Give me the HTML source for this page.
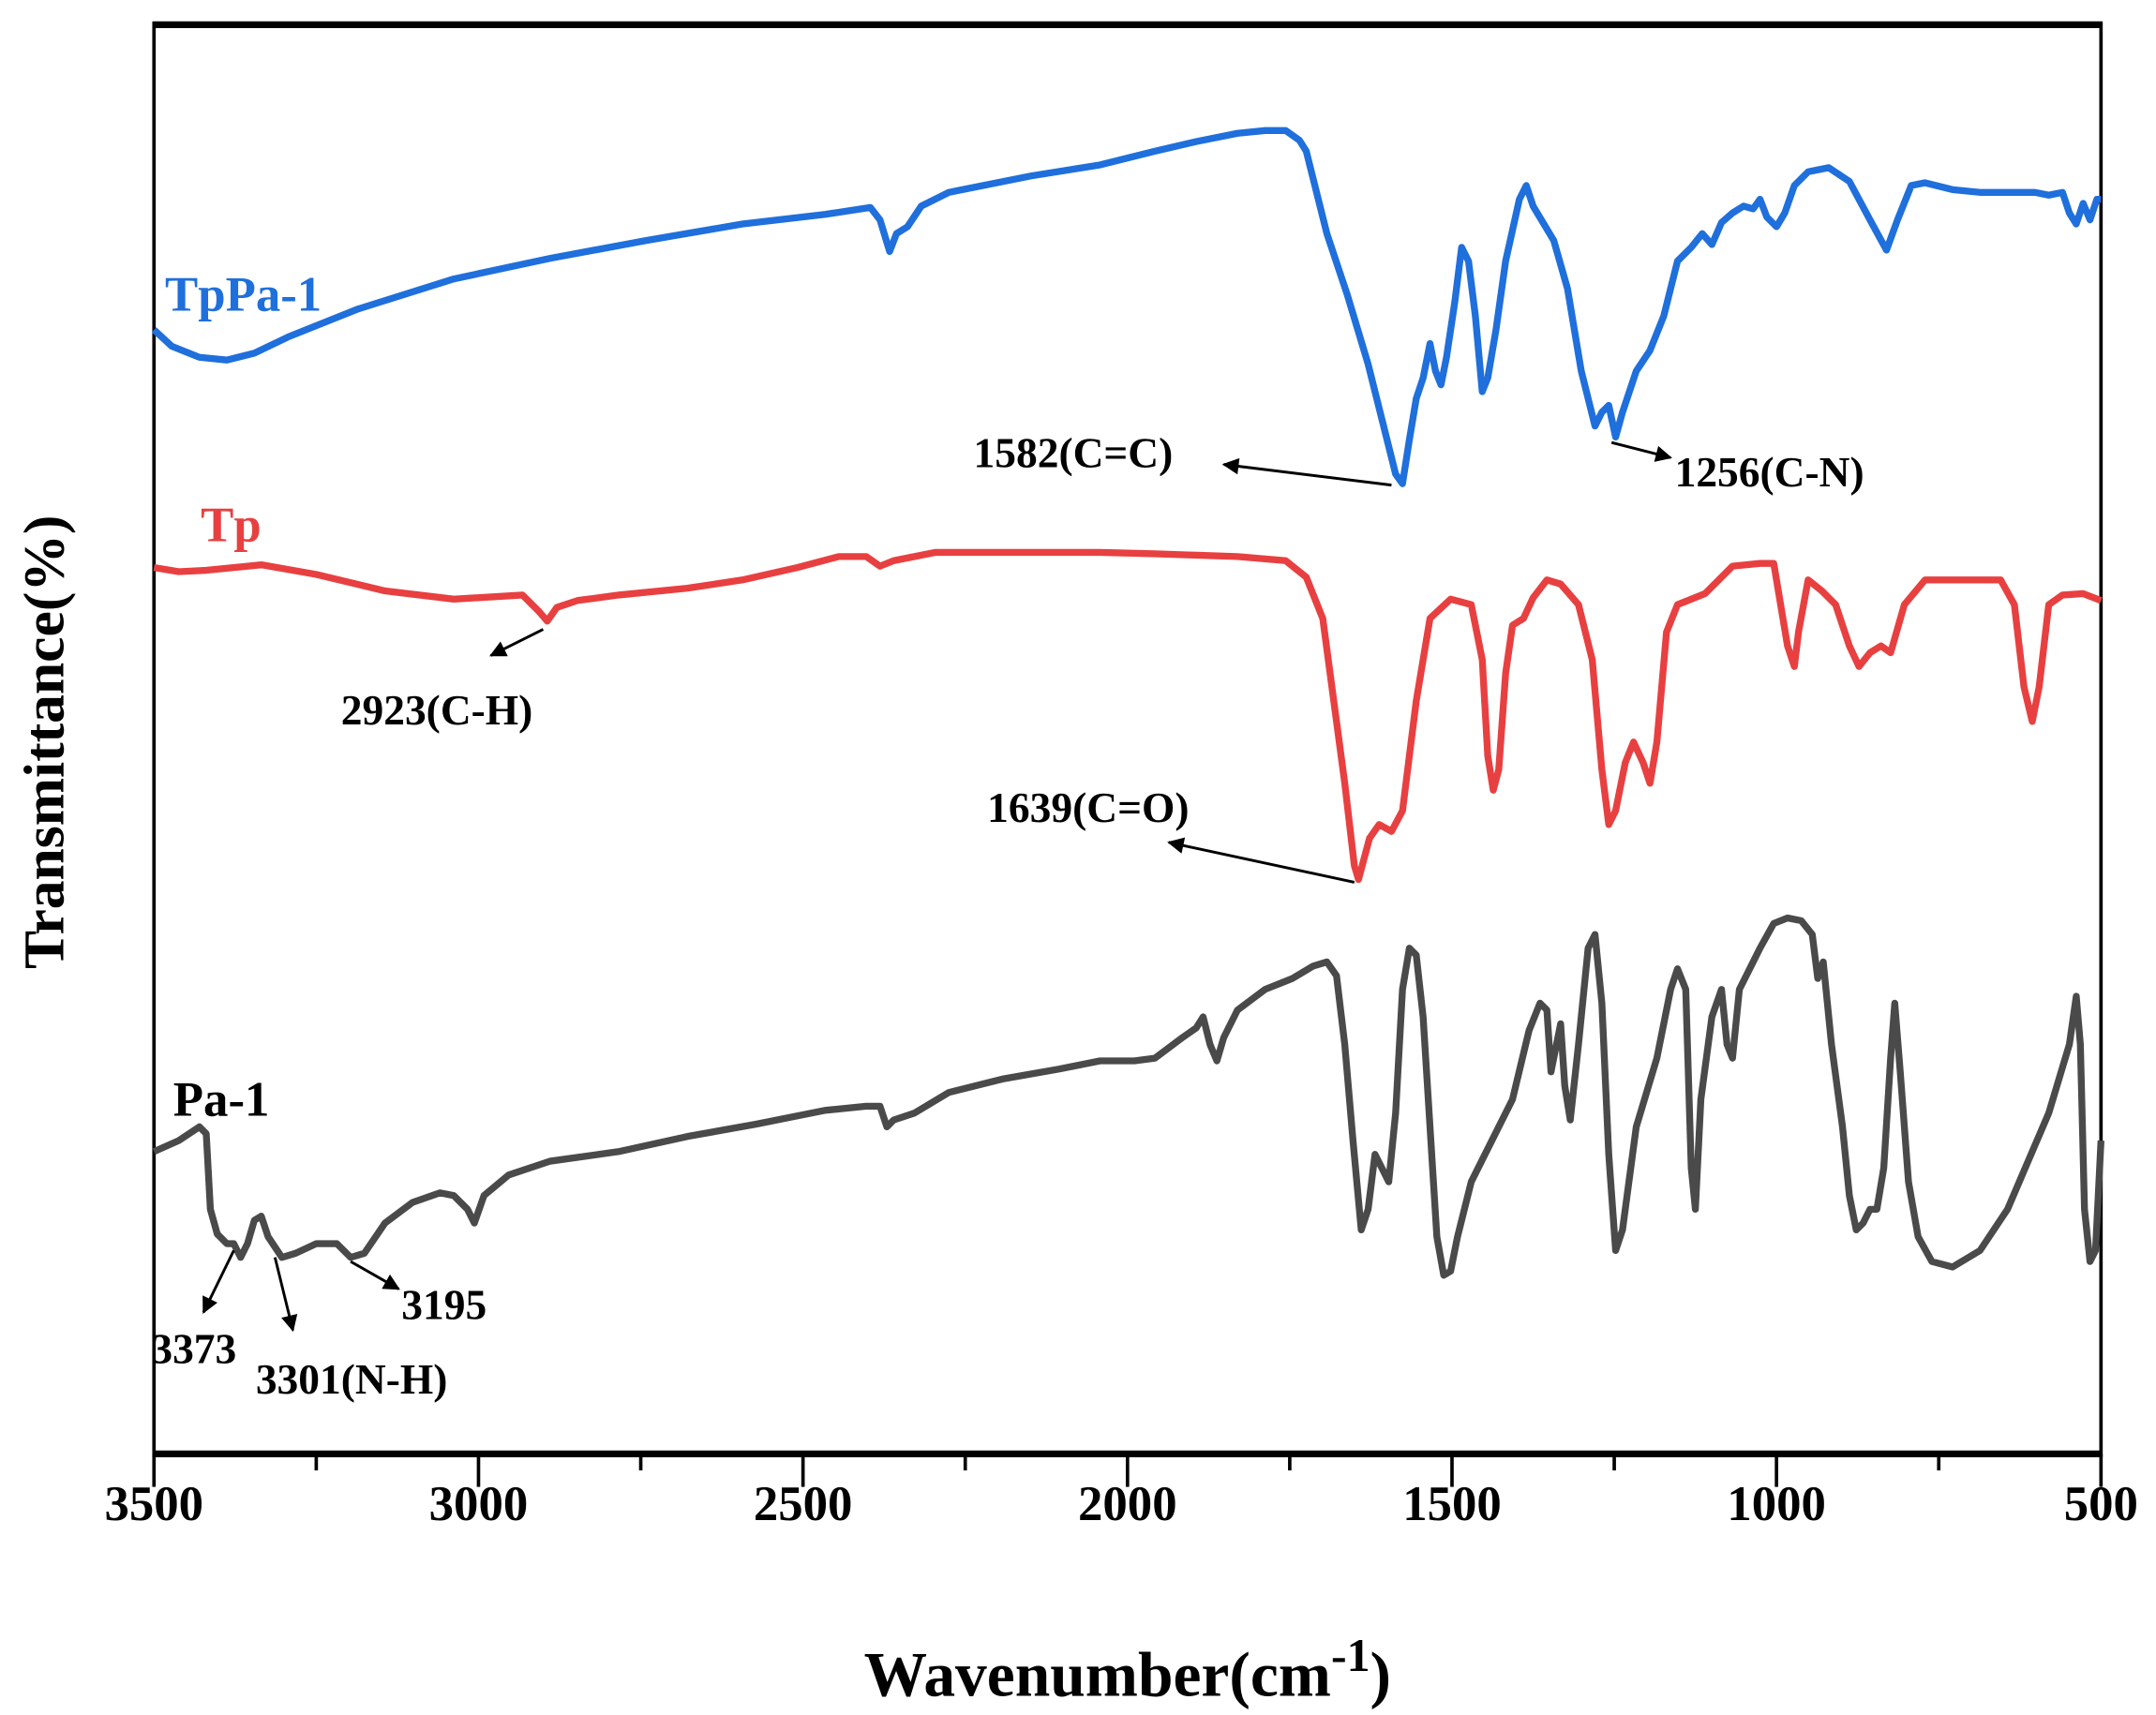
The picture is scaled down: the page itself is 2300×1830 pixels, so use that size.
<!DOCTYPE html>
<html><head><meta charset="utf-8"><style>html,body{margin:0;padding:0;background:#fff}svg{display:block}</style></head><body>
<svg width="2300" height="1830" viewBox="0 0 1568 1248" preserveAspectRatio="none" xmlns="http://www.w3.org/2000/svg" font-family="'Liberation Serif', serif" font-weight="bold">
<defs>
<marker id="a2" viewBox="0 0 10 10" refX="9" refY="5" markerWidth="16" markerHeight="12" orient="auto" markerUnits="userSpaceOnUse"><path d="M0,0 L10,5 L0,10 z" fill="#000"/></marker></defs>
<rect x="112" y="17" width="1416" height="1042" fill="none" stroke="#000" stroke-width="2.5"/>
<line x1="111" y1="18" x2="1529" y2="18" stroke="#000" stroke-width="5"/>
<line x1="111" y1="1058" x2="1529" y2="1058" stroke="#000" stroke-width="5"/>
<g stroke="#000" stroke-width="2.5">
<line x1="112" y1="1058" x2="112" y2="1082"/><line x1="348" y1="1058" x2="348" y2="1082"/><line x1="584" y1="1058" x2="584" y2="1082"/><line x1="820" y1="1058" x2="820" y2="1082"/><line x1="1056" y1="1058" x2="1056" y2="1082"/><line x1="1292" y1="1058" x2="1292" y2="1082"/><line x1="1528" y1="1058" x2="1528" y2="1082"/>
<line x1="230" y1="1058" x2="230" y2="1070"/><line x1="466" y1="1058" x2="466" y2="1070"/><line x1="702" y1="1058" x2="702" y2="1070"/><line x1="938" y1="1058" x2="938" y2="1070"/><line x1="1174" y1="1058" x2="1174" y2="1070"/><line x1="1410" y1="1058" x2="1410" y2="1070"/>
</g>
<g font-size="36" text-anchor="middle">
<text x="112" y="1106">3500</text><text x="348" y="1106">3000</text><text x="584" y="1106">2500</text><text x="820" y="1106">2000</text><text x="1056" y="1106">1500</text><text x="1292" y="1106">1000</text><text x="1528" y="1106">500</text>
</g>
<text x="820" y="1234" font-size="46" text-anchor="middle">Wavenumber(cm<tspan dy="-18" font-size="34">-1</tspan><tspan dy="18">)</tspan></text>
<text transform="translate(46,540) rotate(-90)" font-size="42" text-anchor="middle">Transmittance(%)</text>
<g fill="none" stroke-width="5" stroke-linejoin="round">
<polyline stroke="#1f6fdc" points="112,240 125,252 145,260 165,262 185,257 210,245 260,225 330,203 400,188 470,175 540,163 600,156 633,151 640,160 647,183 652,170 660,165 670,150 690,140 750,128 800,120 840,110 870,103 900,97 920,95 935,95 945,102 950,110 955,130 965,170 980,215 995,265 1005,305 1015,345 1020,352 1025,320 1030,290 1035,275 1040,250 1044,270 1048,280 1052,260 1058,220 1063,180 1068,190 1073,230 1078,285 1082,275 1088,240 1095,190 1105,145 1110,135 1115,150 1130,175 1140,210 1150,270 1160,310 1165,300 1170,295 1175,318 1180,300 1190,270 1200,255 1210,230 1220,190 1230,180 1238,170 1245,178 1252,162 1260,155 1268,150 1275,152 1280,145 1285,158 1292,165 1298,155 1305,135 1315,125 1330,122 1345,132 1360,160 1372,182 1380,160 1390,135 1400,133 1420,138 1440,140 1460,140 1480,140 1490,142 1500,140 1505,155 1510,163 1515,148 1520,160 1525,145 1528,145"/>
<polyline stroke="#e84040" points="112,413 130,416 150,415 190,411 230,418 280,430 330,436 380,433 392,445 398,452 405,442 420,437 450,433 500,428 540,422 580,413 610,405 630,405 640,412 650,408 680,402 750,402 800,402 840,403 900,405 935,408 950,420 962,450 970,510 978,570 985,630 988,640 992,625 996,610 1003,600 1012,605 1020,590 1030,510 1040,450 1055,436 1070,440 1078,480 1082,550 1086,575 1090,560 1095,490 1100,455 1108,450 1115,435 1125,422 1135,425 1148,440 1158,480 1165,560 1170,600 1175,590 1182,555 1188,540 1195,555 1200,570 1205,540 1212,460 1220,440 1240,432 1260,412 1280,410 1290,410 1295,440 1300,470 1305,485 1308,460 1315,422 1325,430 1335,440 1345,470 1352,485 1360,475 1368,470 1375,475 1385,440 1400,422 1430,422 1455,422 1465,440 1472,500 1478,525 1483,500 1490,440 1500,433 1515,432 1528,437"/>
<polyline stroke="#4a4a4a" points="112,838 130,830 145,820 150,825 153,880 158,898 165,905 170,905 175,915 180,905 185,888 190,885 195,900 205,915 215,912 230,905 245,905 255,915 265,912 280,890 300,875 320,868 330,870 340,880 345,890 352,870 370,855 400,845 450,838 500,827 550,818 600,808 630,805 640,805 645,820 650,815 665,810 690,795 730,785 770,778 800,772 825,772 840,770 860,755 870,748 875,740 880,760 885,772 890,755 900,735 920,720 940,712 955,703 965,700 972,710 978,760 984,830 990,895 995,880 1000,840 1005,850 1010,860 1015,810 1020,720 1025,690 1030,695 1035,740 1040,820 1045,900 1050,928 1055,925 1060,900 1070,860 1085,830 1100,800 1112,750 1120,730 1125,735 1128,780 1132,760 1135,745 1138,790 1142,815 1148,760 1155,690 1160,680 1165,730 1170,840 1175,910 1180,895 1190,820 1205,770 1215,720 1220,705 1226,720 1230,850 1233,880 1237,800 1245,740 1252,720 1256,760 1260,770 1265,720 1270,710 1275,700 1280,690 1290,672 1300,668 1310,670 1318,680 1322,712 1326,700 1332,760 1340,820 1345,870 1350,895 1355,890 1360,880 1365,880 1370,850 1375,770 1378,730 1382,780 1388,860 1395,900 1405,918 1420,922 1440,910 1460,880 1490,810 1505,760 1510,725 1513,760 1516,880 1520,918 1524,910 1528,830"/>
</g>
<text x="120" y="226" font-size="36" fill="#1f6fdc">TpPa-1</text>
<text x="146" y="394" font-size="36" fill="#e84040">Tp</text>
<text x="126" y="812" font-size="36" fill="#000">Pa-1</text>
<g stroke="#000" stroke-width="2" marker-end="url(#a2)">
<line x1="1012" y1="353" x2="890" y2="338"/>
<line x1="1172" y1="322" x2="1215" y2="333"/>
<line x1="395" y1="458" x2="357" y2="477"/>
<line x1="985" y1="642" x2="850" y2="613"/>
<line x1="170" y1="910" x2="148" y2="955"/>
<line x1="200" y1="915" x2="213" y2="968"/>
<line x1="255" y1="918" x2="290" y2="938"/>
</g>
<g font-size="31" fill="#000">
<text x="708" y="340">1582(C=C)</text>
<text x="1218" y="354">1256(C-N)</text>
<text x="248" y="527">2923(C-H)</text>
<text x="718" y="598">1639(C=O)</text>
<text x="110" y="992">3373</text>
<text x="186" y="1014">3301(N-H)</text>
<text x="292" y="960">3195</text>
</g>
</svg>
</body></html>
